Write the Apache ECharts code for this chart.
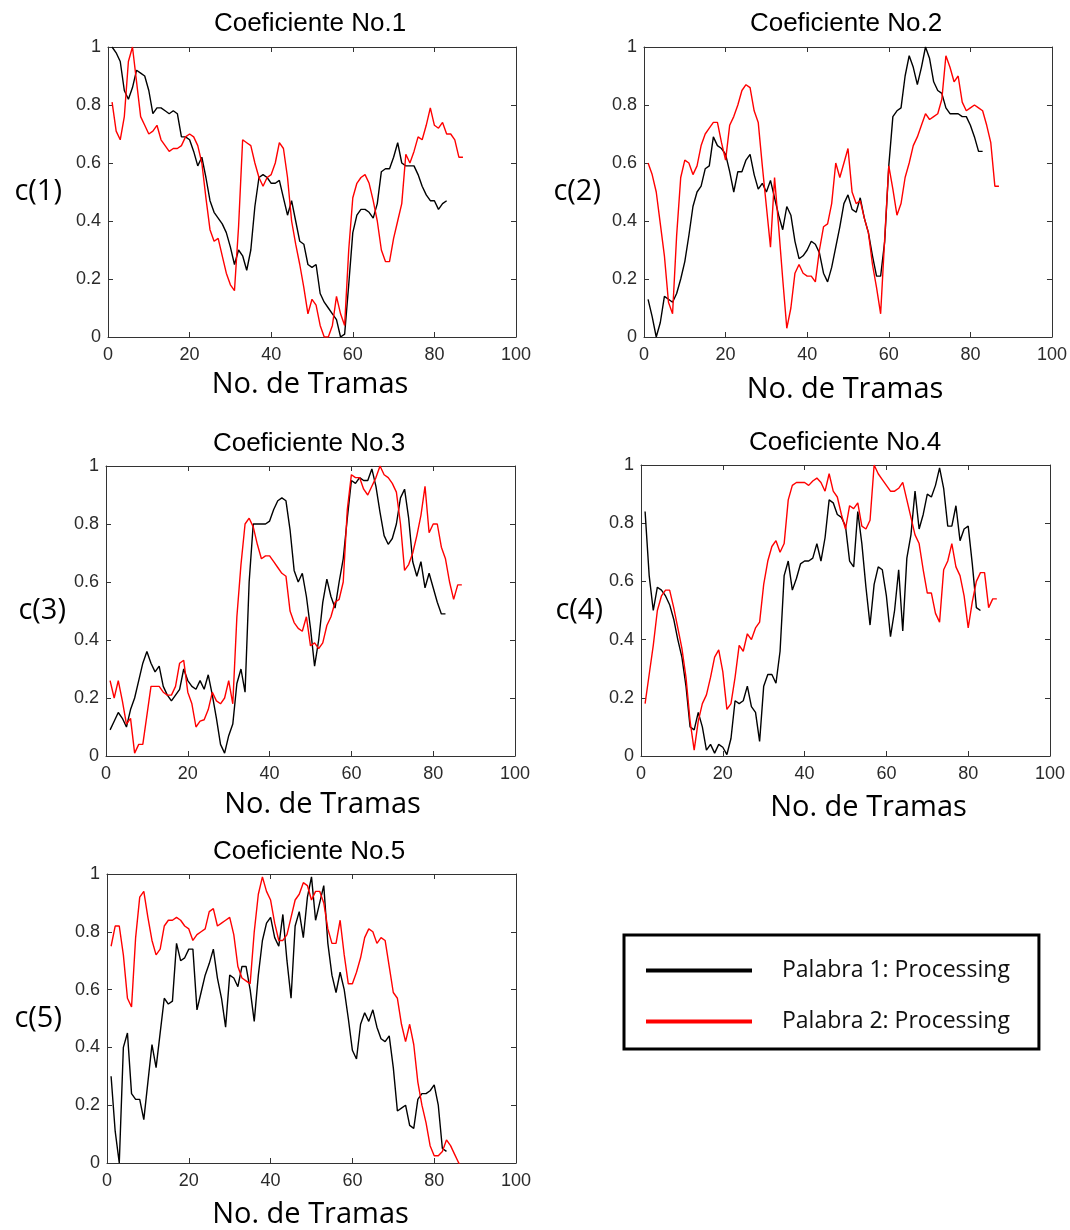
<!DOCTYPE html>
<html>
<head>
<meta charset="utf-8">
<script src="https://cdn.jsdelivr.net/npm/echarts@6/dist/echarts.min.js"></script>
<style>
html,body{margin:0;padding:0;background:#fff;}
#chart{width:1070px;height:1230px;}
</style>
</head>
<body>
<div id="chart"></div>
<script>
// ---------------- DATA ----------------
const seriesNames = ['Palabra 1: Processing', 'Palabra 2: Processing'];
const titles = ['Coeficiente No.1', 'Coeficiente No.2', 'Coeficiente No.3', 'Coeficiente No.4', 'Coeficiente No.5'];
const yNames = ['c(1)', 'c(2)', 'c(3)', 'c(4)', 'c(5)'];
const xName = 'No. de Tramas';
const xTicks = [0, 20, 40, 60, 80, 100];
const yTicks = [0, 0.2, 0.4, 0.6, 0.8, 1];

const black1 = [1.0,0.98,0.95,0.85,0.82,0.86,0.92,0.91,0.90,0.85,
  0.77,0.79,0.79,0.78,0.77,0.78,0.77,0.69,0.69,0.68,
  0.64,0.59,0.62,0.55,0.47,0.43,0.41,0.39,0.36,0.31,
  0.25,0.30,0.28,0.23,0.30,0.45,0.55,0.56,0.55,0.53,
  0.53,0.54,0.48,0.42,0.47,0.40,0.33,0.32,0.25,0.24,
  0.25,0.15,0.12,0.10,0.08,0.06,0.00,0.01,0.18,0.36,
  0.42,0.44,0.44,0.43,0.41,0.46,0.57,0.58,0.58,0.62,
  0.67,0.60,0.59,0.59,0.59,0.56,0.52,0.49,0.47,0.47,
  0.44,0.46,0.47];
const red1 = [0.81,0.71,0.68,0.76,0.95,1.0,0.88,0.76,0.73,0.70,
  0.71,0.73,0.68,0.66,0.64,0.65,0.65,0.66,0.69,0.70,
  0.69,0.66,0.60,0.48,0.37,0.33,0.34,0.28,0.22,0.18,
  0.16,0.38,0.68,0.67,0.66,0.60,0.55,0.52,0.55,0.56,
  0.60,0.67,0.65,0.55,0.40,0.32,0.25,0.17,0.08,0.13,
  0.11,0.04,0.00,0.00,0.04,0.14,0.08,0.04,0.30,0.48,
  0.53,0.55,0.56,0.53,0.47,0.40,0.30,0.26,0.26,0.34,
  0.40,0.46,0.63,0.60,0.64,0.69,0.68,0.73,0.79,0.73,
  0.72,0.74,0.70,0.70,0.68,0.62,0.62];

const black2 = [0.13,0.07,0.00,0.05,0.14,0.13,0.12,0.15,0.20,0.26,
  0.35,0.45,0.50,0.52,0.58,0.59,0.69,0.66,0.65,0.63,
  0.57,0.50,0.57,0.57,0.61,0.63,0.56,0.51,0.53,0.50,
  0.54,0.48,0.42,0.37,0.45,0.42,0.33,0.27,0.28,0.30,
  0.33,0.32,0.29,0.22,0.19,0.24,0.31,0.38,0.46,0.49,
  0.44,0.43,0.48,0.41,0.36,0.28,0.21,0.21,0.33,0.59,
  0.76,0.78,0.79,0.90,0.97,0.93,0.87,0.93,1.0,0.96,
  0.88,0.85,0.84,0.79,0.77,0.77,0.77,0.76,0.76,0.73,
  0.69,0.64,0.64];
const red2 = [0.60,0.56,0.50,0.39,0.28,0.12,0.08,0.35,0.55,0.61,
  0.60,0.56,0.59,0.66,0.70,0.72,0.74,0.74,0.67,0.61,
  0.73,0.76,0.80,0.85,0.87,0.86,0.78,0.74,0.59,0.45,
  0.31,0.55,0.38,0.20,0.03,0.10,0.22,0.25,0.22,0.21,
  0.21,0.19,0.30,0.38,0.39,0.46,0.60,0.55,0.60,0.65,
  0.50,0.46,0.47,0.41,0.36,0.25,0.17,0.08,0.34,0.59,
  0.51,0.42,0.46,0.55,0.60,0.66,0.69,0.73,0.77,0.75,
  0.76,0.77,0.82,0.97,0.93,0.88,0.90,0.81,0.78,0.79,
  0.80,0.79,0.78,0.73,0.67,0.52,0.52];

const black3 = [0.09,0.12,0.15,0.13,0.10,0.16,0.20,0.26,0.32,0.36,
  0.32,0.29,0.31,0.24,0.21,0.19,0.21,0.23,0.30,0.26,
  0.24,0.23,0.26,0.23,0.28,0.21,0.13,0.04,0.01,0.07,
  0.11,0.25,0.30,0.22,0.60,0.80,0.80,0.80,0.80,0.81,
  0.85,0.88,0.89,0.88,0.78,0.64,0.60,0.63,0.55,0.44,
  0.31,0.40,0.53,0.61,0.55,0.51,0.60,0.68,0.82,0.95,
  0.94,0.96,0.95,0.95,0.99,0.93,0.84,0.76,0.73,0.75,
  0.80,0.89,0.92,0.82,0.67,0.62,0.67,0.58,0.63,0.58,
  0.53,0.49,0.49];
const red3 = [0.26,0.20,0.26,0.19,0.11,0.13,0.01,0.04,0.04,0.14,
  0.24,0.24,0.24,0.22,0.21,0.21,0.24,0.32,0.33,0.22,
  0.18,0.10,0.12,0.125,0.16,0.22,0.19,0.18,0.20,0.26,
  0.18,0.48,0.66,0.80,0.82,0.79,0.73,0.68,0.69,0.69,
  0.67,0.65,0.63,0.62,0.50,0.46,0.44,0.43,0.48,0.38,
  0.39,0.37,0.39,0.45,0.48,0.53,0.54,0.60,0.85,0.97,
  0.96,0.96,0.92,0.90,0.93,0.96,1.0,0.97,0.96,0.94,
  0.91,0.80,0.64,0.66,0.70,0.76,0.83,0.93,0.77,0.80,
  0.80,0.72,0.68,0.60,0.54,0.59,0.59];

const black4 = [0.84,0.62,0.50,0.58,0.57,0.55,0.52,0.47,0.40,0.34,
  0.24,0.10,0.09,0.15,0.10,0.02,0.04,0.01,0.04,0.03,
  0.005,0.06,0.19,0.18,0.19,0.24,0.17,0.15,0.05,0.24,
  0.28,0.28,0.25,0.36,0.62,0.67,0.57,0.61,0.66,0.67,
  0.67,0.68,0.73,0.67,0.75,0.88,0.87,0.83,0.82,0.79,
  0.67,0.65,0.84,0.73,0.58,0.45,0.59,0.65,0.64,0.55,
  0.41,0.50,0.64,0.43,0.68,0.76,0.91,0.78,0.83,0.90,
  0.89,0.93,0.99,0.92,0.79,0.79,0.86,0.74,0.78,0.79,
  0.66,0.51,0.50];
const red4 = [0.18,0.28,0.38,0.50,0.55,0.57,0.57,0.51,0.44,0.37,
  0.27,0.12,0.02,0.12,0.18,0.21,0.27,0.34,0.365,0.29,
  0.16,0.18,0.27,0.38,0.36,0.42,0.40,0.44,0.46,0.59,
  0.67,0.72,0.74,0.70,0.73,0.88,0.93,0.94,0.94,0.94,
  0.93,0.945,0.955,0.94,0.91,0.97,0.91,0.89,0.83,0.78,
  0.86,0.85,0.87,0.79,0.78,0.81,1.0,0.97,0.95,0.93,
  0.91,0.91,0.92,0.94,0.88,0.82,0.76,0.73,0.64,0.56,
  0.56,0.49,0.46,0.64,0.67,0.73,0.65,0.62,0.55,0.44,
  0.53,0.60,0.63,0.63,0.51,0.54,0.54];

const black5 = [0.30,0.11,0.00,0.40,0.45,0.24,0.22,0.22,0.15,0.28,
  0.41,0.33,0.45,0.57,0.55,0.56,0.76,0.70,0.71,0.74,
  0.74,0.53,0.59,0.65,0.69,0.74,0.64,0.57,0.47,0.65,
  0.64,0.61,0.68,0.68,0.60,0.49,0.65,0.77,0.83,0.85,
  0.78,0.75,0.86,0.70,0.57,0.82,0.87,0.78,0.92,0.99,
  0.84,0.90,0.96,0.76,0.65,0.59,0.66,0.60,0.50,0.39,
  0.36,0.48,0.52,0.49,0.53,0.47,0.43,0.42,0.44,0.33,
  0.18,0.19,0.20,0.13,0.12,0.22,0.24,0.24,0.25,0.27,
  0.20,0.05,0.04];
const red5 = [0.75,0.82,0.82,0.72,0.57,0.54,0.78,0.92,0.94,0.85,
  0.77,0.72,0.74,0.82,0.84,0.84,0.85,0.84,0.82,0.81,
  0.77,0.79,0.80,0.81,0.87,0.88,0.82,0.83,0.84,0.85,
  0.79,0.68,0.64,0.63,0.62,0.80,0.93,0.99,0.94,0.91,
  0.83,0.77,0.77,0.79,0.85,0.91,0.93,0.97,0.96,0.91,
  0.94,0.94,0.90,0.81,0.76,0.76,0.84,0.72,0.62,0.62,
  0.66,0.71,0.78,0.81,0.80,0.76,0.78,0.77,0.68,0.59,
  0.57,0.48,0.42,0.48,0.41,0.28,0.20,0.14,0.06,0.025,
  0.025,0.04,0.08,0.06,0.03,0.00,-0.02];

const blacks = [black1, black2, black3, black4, black5];
const reds = [red1, red2, red3, red4, red5];

// ---------------- LAYOUT ----------------
const panels = [
  {left:108, top:47,  width:408, height:290, tx:310, ty:24,  xGap:33, xDx:-2, yGap:46},
  {left:644, top:47,  width:408, height:290, tx:846, ty:24,  xGap:38, xDx:-3, yGap:43},
  {left:106, top:466, width:409, height:290, tx:309, ty:444, xGap:34, xDx:12, yGap:40},
  {left:641, top:465, width:409, height:291, tx:845, ty:443, xGap:37, xDx:23, yGap:38},
  {left:107, top:874, width:409, height:291, tx:309, ty:852, xGap:37, xDx:-1, yGap:45}
];

const axisColor = '#333';
const tickFont = 'Liberation Sans, Arial, sans-serif';
const nameFont = 'Open Sans, Noto Sans, sans-serif';

const grid = [], xAxis = [], yAxis = [], series = [], title = [];
panels.forEach((p, i) => {
  grid.push({left:p.left, top:p.top, width:p.width, height:p.height, containLabel:false});
  title.push({text:titles[i], left:p.tx, top:p.ty, textAlign:'center', textVerticalAlign:'middle', padding:0,
    textStyle:{fontFamily:tickFont, fontSize:26, fontWeight:'normal', color:'#000'}});
  const xBase = {gridIndex:i, type:'value', min:0, max:100, interval:20,
    axisLine:{show:true, onZero:false, lineStyle:{color:axisColor, width:1}},
    axisTick:{show:true, inside:true, length:5, lineStyle:{color:axisColor}},
    splitLine:{show:false}};
  const pad = p.xDx >= 0 ? [0,0,0,2*p.xDx] : [0,-2*p.xDx,0,0];
  xAxis.push(Object.assign({}, xBase, {position:'bottom',
    axisLabel:{show:true, fontFamily:tickFont, fontSize:18, color:'#2a2a2a', margin:9,
      formatter: v => xTicks.includes(v) ? String(v) : ''},
    name:xName, nameLocation:'middle', nameGap:p.xGap,
    nameTextStyle:{fontFamily:nameFont, fontSize:29, color:'#000', padding:pad}}));
  xAxis.push(Object.assign({}, xBase, {position:'top', axisLabel:{show:false}}));
  const yBase = {gridIndex:i, type:'value', min:0, max:1, interval:0.2,
    axisLine:{show:true, onZero:false, lineStyle:{color:axisColor, width:1}},
    axisTick:{show:true, inside:true, length:5, lineStyle:{color:axisColor}},
    splitLine:{show:false}};
  yAxis.push(Object.assign({}, yBase, {position:'left',
    axisLabel:{show:true, fontFamily:tickFont, fontSize:18, color:'#2a2a2a', margin:7,
      formatter: v => { const t = yTicks.find(k => Math.abs(k - v) < 1e-9); return t === undefined ? '' : String(t); }},
    name:yNames[i], nameLocation:'middle', nameGap:p.yGap, nameRotate:0,
    nameTextStyle:{fontFamily:nameFont, fontSize:29, color:'#000', align:'right', verticalAlign:'middle'}}));
  yAxis.push(Object.assign({}, yBase, {position:'right', axisLabel:{show:false}}));
  series.push({name:seriesNames[0], type:'line', xAxisIndex:2*i, yAxisIndex:2*i,
    data: blacks[i].map((v, k) => [k + 1, v]), showSymbol:false, symbol:'none', clip:true,
    lineStyle:{color:'#000', width:1.4}, itemStyle:{color:'#000'}});
  series.push({name:seriesNames[1], type:'line', xAxisIndex:2*i, yAxisIndex:2*i,
    data: reds[i].map((v, k) => [k + 1, v]), showSymbol:false, symbol:'none', clip:true,
    lineStyle:{color:'#ff0000', width:1.4}, itemStyle:{color:'#ff0000'}});
});

const chart = echarts.init(document.getElementById('chart'), null, {renderer:'canvas'});
chart.setOption({
  backgroundColor:'#fff',
  animation:false,
  title, grid, xAxis, yAxis, series,
  legend:{
    data:seriesNames, orient:'vertical', left:624, top:935,
    icon:'rect', itemWidth:106, itemHeight:4, itemGap:24,
    padding:[22, 29, 14, 22],
    borderColor:'#000', borderWidth:3, backgroundColor:'#fff',
    selectedMode:false,
    textStyle:{fontFamily:nameFont, fontSize:23, color:'#111', lineHeight:27, padding:[0,0,0,25]}
  }
});
</script>
</body>
</html>
